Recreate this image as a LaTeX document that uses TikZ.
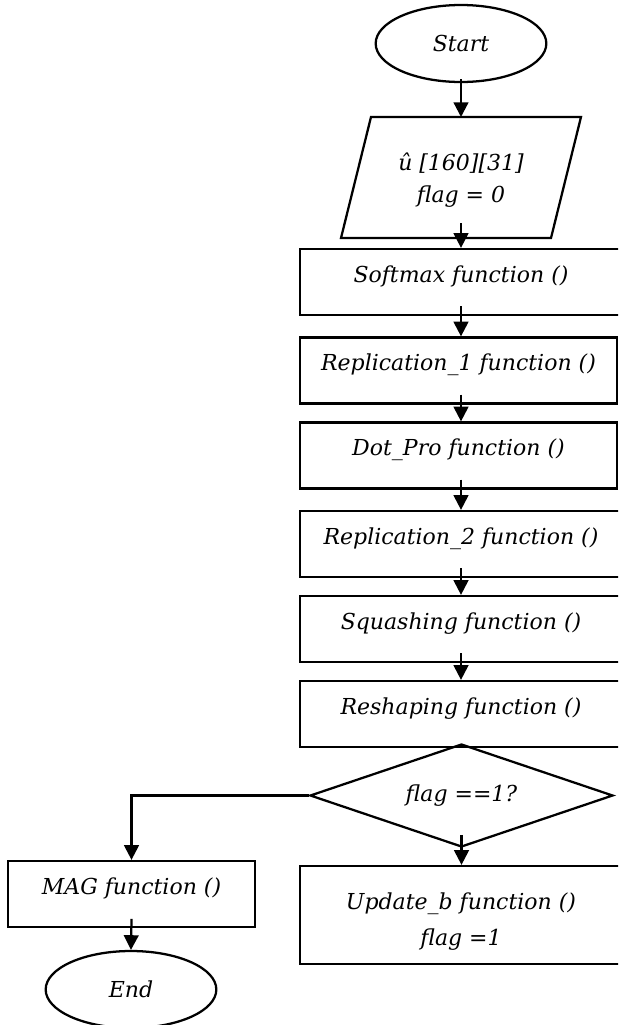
\documentclass[tikz,border=0pt]{standalone}
\usepackage{fontspec}
\newfontfamily\dvs{DejaVu Serif}
\usetikzlibrary{shapes.geometric,arrows.meta}
\begin{document}
\begin{tikzpicture}[x=0.75pt,y=-0.75pt,
  every node/.style={font=\dvs\itshape\fontsize{16.5}{24}\selectfont},
  ln/.style={line width=1.7pt},
  proc/.style={draw, ln, rectangle, minimum height=49.5pt, inner sep=0pt, text height=10pt, text depth=10pt},
  term/.style={draw, ln, ellipse, minimum width=128pt, minimum height=57.75pt, inner sep=0pt},
  arr/.style={ln, -{Triangle[length=11pt,width=11pt]}}
]
\useasboundingbox (0,0) rectangle (618,1025);
\clip (0,0) rectangle (618,1025);
\node[term] (start) at (461,43.5) {Start};
\node[rectangle, outer sep=0pt, inner sep=0pt, minimum width=180pt, minimum height=90.75pt, align=center] (input) at (461,180.5) {û [160][31]\\flag = 0};
\draw[ln, line join=miter] ([yshift=2.25pt]input.south west) -- ([xshift=22.5pt,yshift=2.25pt]input.north west) -- ([yshift=2.25pt]input.north east) -- ([xshift=-22.5pt,yshift=2.25pt]input.south east) -- cycle;
\node[proc, minimum width=241.5pt] (soft) at (461,282) {Softmax function ()};
\node[proc, minimum width=237.75pt] (rep1) at (458.5,370.5) {Replication\_1 function ()};
\node[proc, minimum width=237.75pt] (dot) at (458.5,455.5) {Dot\_Pro function ()};
\node[proc, minimum width=241.5pt] (rep2) at (461,544) {Replication\_2 function ()};
\node[proc, minimum width=241.5pt] (squash) at (461,629) {Squashing function ()};
\node[proc, minimum width=241.5pt] (reshape) at (461,714) {Reshaping function ()};
\node[draw, ln, diamond, shape aspect=2.94, minimum width=227.25pt, minimum height=77.25pt, inner sep=0pt] (dec) at (461.5,795.5) {flag ==1?};
\node[draw, ln, rectangle, minimum width=241.5pt, minimum height=73.5pt, inner sep=0pt] (upd) at (461,915) {};
\node[align=center, inner sep=0pt] (updtext) at (461,921.5) {Update\_b function ()\\[3pt]flag =1};
\node[proc, minimum width=185.25pt] (mag) at (131.5,894) {MAG function ()};
\node[term] (end) at (131,989.5) {End};
\draw[arr] ([yshift=3pt]start.south) -- ([yshift=2.25pt]input.north);
\draw[arr] ([yshift=13.25pt]input.south) -- (soft.north -| input.south);
\draw[arr] ([yshift=7.5pt]soft.south) -- (rep1.north -| soft.south);
\draw[arr] ([yshift=7.5pt]rep1.south -| soft.south) -- (dot.north -| soft.south);
\draw[arr] ([yshift=7.5pt]dot.south -| soft.south) -- (rep2.north);
\draw[arr] ([yshift=7.5pt]rep2.south) -- (squash.north);
\draw[arr] ([yshift=7.5pt]squash.south) -- (reshape.north);
\draw[arr] ([yshift=10pt]dec.south) -- (upd.north -| dec.south);
\draw[arr] (dec.west) -| (mag.north);
\draw[arr] ([yshift=7pt]mag.south) -- (end.north);
\end{tikzpicture}
\end{document}
